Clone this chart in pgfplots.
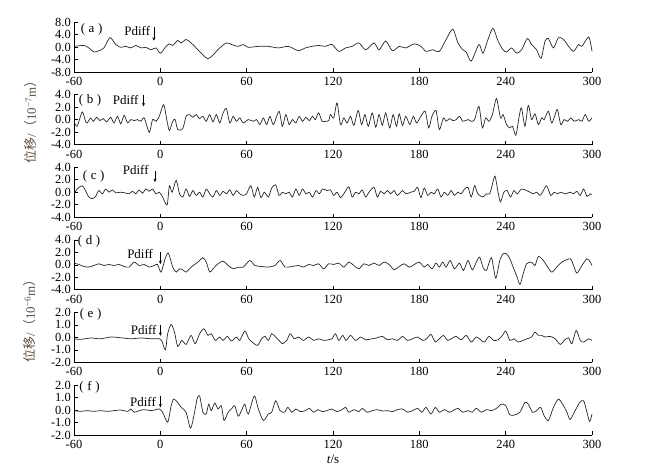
\documentclass[border=0pt]{standalone}
\usepackage{pgfplots}
\pgfplotsset{compat=1.18}
\usepackage{pgfplotstable}
\usetikzlibrary{arrows.meta}
\usepackage{fontspec}
\setmainfont{Liberation Serif}
\newfontfamily\cjk{Noto Sans CJK SC}
\definecolor{labc}{RGB}{95,80,65}

\pgfplotstableread{
t v
-60 0.2
-53.1 0.5
-49.7 -0.3
-46.2 -1.6
-42.7 -1.2
-39.2 -0.3
-35.0 3.0
-31.0 0.8
-27.5 -0.1
-24.0 0.2
-20.5 -0.3
-17.0 0.5
-13.5 -0.3
-10.0 -0.1
-6.5 -0.9
-3.0 -0.3
0 -2.0
4.0 0.2
6.3 1.0
8.6 0.5
12.1 2.1
14.5 1.3
17.9 2.4
21.4 1.3
24.9 -0.3
29.6 -2.5
33.1 -3.8
36.6 -2.5
41.3 -0.3
45.9 1.3
49.4 0.8
54.1 0.2
57.6 0.8
61.1 -0.1
68.1 0.2
75.1 0.2
82.1 -0.3
89.0 0.2
96.0 -1.2
100.7 -0.3
105.4 0.2
110.0 0.5
114.7 0.2
119.3 0.8
124.0 -1.4
128.7 -0.3
133.3 0.2
138.0 1.3
142.7 -0.9
148.5 1.3
152.0 -0.9
156.6 1.9
161.3 -1.2
166.0 0.2
170.6 -0.3
176.5 1.0
181.1 0.2
184.6 -1.4
189.3 -0.9
193.9 -1.4
198.6 2.4
203.3 5.7
206.8 1.3
210.3 -0.9
212.6 -1.6
216.1 -4.5
221.4 0.8
224.2 -2.0
227.7 2.4
231.2 6.0
234.7 1.9
238.2 -0.9
240.6 -1.6
244.1 -0.3
247.6 -2.0
251.1 -0.9
255.0 2.7
258.0 0.8
261.5 -0.9
264.6 -3.6
267.4 1.9
269.7 2.7
273.2 -0.3
276.7 3.0
280.2 2.4
283.7 0.2
287.2 -1.4
290.7 0.8
293.0 0.2
297.7 3.2
300 -1.4
}\dataA

\pgfplotstableread{
t v
-60 -0.27
-57.8 -1.07
-54.3 1.23
-52.0 -0.27
-50.8 -0.53
-48.5 0.27
-46.6 -0.27
-44.3 0.37
-42.0 -0.16
-39.6 0.16
-37.3 -0.37
-34.5 0.37
-32.2 -0.53
-29.8 0.53
-27.5 -0.69
-25.2 0.69
-22.8 -0.53
-20.5 0
-18.2 -0.16
-15.9 0
-13.5 -0.27
-11.2 0.27
-7.7 -2.03
-5.4 0
-3.0 -0.27
-0.7 0.53
2.3 2.4
4.7 -0.27
6.3 -1.76
8.6 -0.27
10.3 0
12.1 -1.6
15.6 -1.44
17.9 0.53
20.3 0.8
22.6 0.37
24.9 0.8
27.3 0.16
29.6 0.53
31.9 -0.27
34.3 0.8
36.6 -0.37
38.9 0.8
41.3 -0.53
43.6 1.07
45.9 1.76
48.3 -0.53
50.6 0.53
52.9 -0.27
55.2 0.27
57.6 -0.53
61.1 0
64.6 -0.27
66.9 0
69.2 -0.8
71.6 0.27
73.9 -0.8
76.2 0.53
78.6 -0.8
82.5 1.33
84.8 -1.07
87.2 0.8
89.5 -0.8
91.8 0
94.2 -0.53
96.5 0.53
98.8 -0.27
101.2 0.37
103.5 -0.16
105.8 0.53
107.7 0
110.0 1.07
112.4 -0.27
114.7 -0.27
117.0 -0.16
118.2 0.8
120.5 0.27
122.8 2.67
125.2 -0.8
127.5 0.27
129.8 -0.53
132.2 0.53
134.5 -0.91
137.5 1.44
139.9 -0.8
142.2 0.8
144.5 -1.07
147.3 1.07
149.7 -1.23
152.0 0.8
154.3 -0.91
156.6 1.07
159.4 -1.33
161.8 0.8
164.1 -1.07
166.0 0.91
168.3 -0.91
170.6 0.53
173.4 -0.8
175.8 0.53
178.1 -0.53
181.1 0.53
184.1 1.33
186.5 -1.33
188.8 0.53
191.6 1.44
193.9 -1.6
196.7 0.27
198.6 -0.27
200.9 0.16
203.3 -0.16
205.6 0
207.9 0.53
210.3 -0.27
213.8 0
216.1 -0.27
218.4 0
221.4 2.13
223.8 -1.33
226.1 0.27
228.4 -0.27
230.8 0.8
233.6 3.36
236.4 0.27
238.2 0.8
240.6 -0.8
242.9 -1.33
244.8 -1.07
247.1 -2.5
249.4 0.53
251.0 1.87
253.4 -1.07
255.7 2.29
258.0 0
260.4 0.91
262.7 -0.8
265.0 0.27
266.7 0
269.7 1.33
272.0 -0.53
274.4 0.8
276.0 1.6
278.3 -0.8
280.6 0
283.0 -0.27
285.3 0.27
287.6 -0.27
290.7 0
293.0 -0.27
295.3 0.8
297.7 -0.27
300 0.27
}\dataB

\pgfplotstableread{
t v
-60 -0.26
-57.8 0.51
-54.3 1.03
-52.0 0.26
-49.7 -0.77
-47.3 -1.03
-45.0 -0.67
-42.7 0.26
-40.3 -0.26
-38.0 0.51
-35.7 0
-33.3 0.36
-31.0 -0.1
-27.5 0
-24.0 -0.15
-21.7 -0.26
-19.3 0.15
-17.0 -0.26
-14.7 0.36
-12.4 -0.15
-10.0 0.51
-7.7 0.15
-5.4 0.51
-3.0 -0.26
-0.7 0
1.6 -0.77
4.7 -2.05
6.3 1.03
8.2 0
11.0 1.9
13.3 -0.26
15.6 -0.77
17.9 0.51
20.3 -0.67
22.6 0.26
24.9 -0.51
27.3 0
29.6 -0.77
31.9 0.51
34.3 -0.26
36.6 -0.77
38.9 0.26
41.3 -0.51
43.6 0.15
45.9 -0.26
48.3 0.36
50.6 -0.51
52.9 0.26
55.2 -0.26
57.6 -0.51
59.9 -0.26
62.9 1.03
65.3 -0.77
67.6 0.77
69.9 -0.87
72.3 0
75.1 -0.77
77.4 0.67
80.2 1.18
82.5 -0.51
84.8 0
87.2 -0.26
89.5 0
91.8 -0.77
94.2 0.51
96.5 -0.51
98.8 0.51
101.2 -0.26
103.5 0
105.8 -0.77
108.2 0.26
110.5 -0.26
112.8 0.51
115.9 0.26
118.2 0.36
120.5 -0.51
122.8 0
125.2 -0.87
127.5 -0.26
131.0 0.87
133.3 -0.77
135.7 0
138.0 -0.26
140.3 0.36
142.7 -0.77
145.0 0
148.5 0.77
150.8 -0.77
153.1 0.15
155.5 -0.26
157.8 0.26
160.1 -0.26
162.5 0.26
164.8 -0.51
168.3 0.26
170.6 -0.26
174.1 0
176.5 0.15
178.8 0.77
181.1 -0.87
183.4 0.67
185.8 -0.51
188.1 0
190.4 -0.26
192.8 0.51
195.1 -0.77
197.4 0
199.8 -0.51
202.1 0.26
204.4 -0.51
206.8 0
209.1 -0.26
211.4 0.51
213.8 0.77
216.1 -0.77
218.4 1.03
220.7 -0.26
224.2 -0.77
226.6 -0.26
228.9 -0.26
230.8 1.28
232.6 2.57
234.7 0
236.4 -1.54
238.7 0
241.0 0.26
243.4 -0.77
245.7 0.26
248.0 -0.26
251.0 0.51
254.5 0.26
256.9 0
259.2 -0.26
261.5 0
263.9 -0.51
266.2 0.26
268.5 1.03
271.3 -0.51
273.7 0
276.0 -0.26
278.3 0
281.4 -0.26
284.8 0
287.2 -0.26
289.5 0.15
291.8 -0.51
294.2 0.51
296.5 -0.67
298.8 -0.26
300 -0.36
}\dataC

\pgfplotstableread{
t v
-60 0.27
-56.6 0.05
-53.1 -0.27
-49.7 -0.37
-46.2 -0.11
-42.7 0.16
-39.2 -0.11
-35.7 0.05
-32.2 -0.11
-28.7 0.05
-25.2 -0.27
-21.7 -0.37
-18.2 0.43
-14.7 -0.11
-11.2 0.05
-7.7 -0.37
-4.2 -0.11
-1.9 0.05
0.5 -1.17
3.3 0.96
5.6 1.87
8.6 -0.37
11.0 -1.17
13.3 -0.64
15.6 -0.8
17.9 -1.17
21.4 -0.37
26.1 0.43
29.6 1.12
31.9 0.43
34.3 -1.17
36.6 -0.64
40.1 0.16
43.6 0.59
47.1 -0.11
50.6 -0.64
54.1 -0.37
57.6 -0.37
62.2 0.69
65.7 -0.11
70.4 -0.27
75.1 -0.37
79.7 -0.11
83.2 0.69
86.7 -0.37
91.4 -0.27
96.0 -0.11
99.5 -0.37
103.0 0.05
106.5 -0.11
110.0 0.16
113.5 -0.64
117.0 0.16
120.5 0.05
124.0 0.27
127.5 -0.37
131.0 0.43
134.5 -0.11
138.0 -0.64
141.5 0.16
145.0 -0.11
148.5 0.27
152.0 -0.11
155.5 0.43
159.0 0.05
162.5 -0.8
166.0 -0.27
169.5 0.16
173.0 -0.37
176.5 0.05
180.0 0.43
183.4 -0.37
185.8 0.05
188.8 -0.64
191.6 0.27
193.9 -0.37
196.3 0.43
198.6 -0.37
201.4 0.69
204.4 -0.64
207.9 0.27
210.7 -0.91
213.8 0.69
216.8 -0.8
219.6 0.43
221.9 1.23
224.2 -0.37
226.6 -0.91
230.1 1.12
233.1 -2.13
235.9 0.69
238.2 1.76
240.6 1.76
242.9 0.96
245.2 -0.37
247.6 -1.71
249.9 -3.14
252.2 -1.44
254.5 0.16
258.0 0.43
260.4 -0.11
262.7 1.33
266.2 0.69
268.5 -0.11
272.0 -1.17
275.5 -0.37
279.0 0.43
284.8 0.96
287.2 -0.11
289.5 -1.33
293.0 -0.11
296.5 0.96
298.8 0.43
300 -0.11
}\dataD

\pgfplotstableread{
t v
-60 -0.11
-55.5 -0.16
-48.5 -0.05
-41.5 -0.11
-34.5 0.03
-27.5 -0.03
-20.5 -0.11
-13.5 -0.05
-6.5 -0.11
-0.7 -0.11
0.9 -0.24
3.5 -0.99
5.1 0.29
7.5 1.04
9.8 0.43
12.1 -0.72
14.9 -0.24
17.9 -0.56
21.4 0.16
24.2 -0.51
27.3 0.29
30.3 0.69
33.1 0.16
35.4 0.29
38.2 -0.24
41.3 0.03
43.6 -0.24
46.6 0.08
49.4 -0.29
52.9 0.03
55.2 -0.24
58.7 0.51
61.5 -0.11
64.6 -0.45
67.6 -0.64
70.4 -0.11
72.7 0.08
75.1 -0.24
77.4 0.29
80.2 0.03
82.5 -0.24
84.8 -0.51
87.9 -0.24
90.2 0.29
93.2 -0.11
96.0 0.03
99.5 -0.24
103.0 0.03
106.5 -0.24
110.0 -0.11
113.5 -0.24
117.0 -0.19
119.3 -0.11
121.7 0.29
124.0 -0.24
126.8 0.16
129.1 -0.24
132.2 0.16
135.7 -0.24
139.2 0.03
142.7 -0.19
147.3 -0.11
150.8 -0.03
154.3 0.08
157.8 -0.19
161.3 -0.11
164.8 -0.24
168.3 0.08
171.8 -0.24
175.3 -0.11
178.8 0.03
182.3 -0.24
185.1 -0.11
188.1 0.24
191.1 -0.37
193.9 -0.11
196.7 0.16
199.8 -0.24
203.3 -0.03
205.6 0.08
209.1 -0.19
212.6 0.16
216.1 -0.37
219.6 0.03
223.1 -0.24
225.4 -0.37
228.4 0.08
231.7 -0.24
234.7 -0.19
237.8 0.16
240.1 0.51
242.9 -0.24
245.7 -0.11
248.7 -0.37
252.2 -0.24
255.0 -0.11
258.0 0.03
260.4 0.43
262.7 0.16
265.0 0.16
267.4 0.03
270.9 0.08
274.4 -0.11
277.9 -0.56
280.6 -0.24
283.7 -0.03
286.0 -0.51
289.0 0.56
291.8 -0.24
294.2 -0.37
297.7 -0.11
300 -0.24
}\dataE

\pgfplotstableread{
t v
-60 -0.05
-55.5 -0.11
-50.8 -0.05
-46.2 -0.11
-41.5 -0.05
-36.8 -0.11
-32.2 -0.05
-27.5 0
-22.8 -0.11
-20.5 0.08
-18.2 -0.18
-14.7 -0.05
-11.2 0.03
-6.5 -0.05
-3.0 0.03
-0.7 0.08
1.6 -0.18
5.1 -0.97
7.5 0.34
9.3 0.87
12.1 0.6
14.5 0.21
17.9 -0.18
21.0 -1.45
23.8 -0.18
25.6 0.92
27.3 1.13
29.6 -0.18
31.9 -0.32
33.6 0.47
35.4 -0.05
37.8 0.55
40.1 0.08
42.4 0.34
44.3 -0.84
47.1 -0.18
49.4 0.08
51.7 0.34
54.1 -0.5
56.4 -0.05
58.7 0.47
61.1 -0.32
65.3 1.13
68.1 0.08
71.6 -0.84
75.1 -0.32
77.4 -0.18
80.2 0.74
83.2 -0.05
86.2 -0.18
88.6 0.21
91.4 -0.18
94.2 0.08
97.2 -0.13
100.7 -0.05
103.5 0.13
106.5 -0.18
109.6 0.03
112.4 -0.13
115.9 -0.05
119.3 0.08
122.8 -0.13
126.3 0.03
128.7 0.21
131.0 -0.18
134.5 0.03
138.0 -0.13
140.3 0.13
143.8 -0.18
147.3 -0.05
150.8 0.03
154.3 -0.08
157.8 -0.05
161.3 -0.13
164.8 0.03
168.3 0.08
171.8 -0.18
175.3 -0.05
178.8 0.13
181.8 -0.18
184.6 0.21
188.1 -0.32
191.1 0.21
193.9 -0.18
197.4 0.03
200.9 -0.18
203.3 -0.05
206.8 0.13
210.3 -0.18
213.8 -0.05
216.8 -0.18
219.6 0.13
223.1 -0.18
226.6 0.03
230.1 -0.05
233.6 0.13
237.1 0.47
240.1 0.34
242.9 -0.39
246.4 -0.39
249.9 -0.18
253.4 0.6
255.7 0.47
258.7 -0.18
261.5 -0.05
264.3 0.21
266.7 -0.45
269.7 -0.84
273.2 0.21
276.7 0.87
280.2 0.34
282.6 -0.18
284.8 -0.76
288.3 -0.05
291.4 0.6
294.2 0.74
296.5 -0.18
298.4 -0.92
300 -0.32
}\dataF

\pgfplotsset{
  panel/.style={
    scale only axis, width=518bp, height=50bp,
    xmin=-60, xmax=300,
    axis x line=bottom, axis y line=left,
    axis line style={-, line width=0.6pt},
    every tick/.style={black, line width=0.6pt},
    tick align=inside, major tick length=3.5bp,
    xtick={-60,0,60,120,180,240,300},
    /pgf/number format/assume math mode=true,
    yticklabel style={/pgf/number format/fixed, /pgf/number format/fixed zerofill, /pgf/number format/precision=1},
    tick label style={font=\fontsize{12.5}{13}\selectfont},
    xticklabel style={inner sep=1bp, yshift=-4bp},
    yticklabel style={inner sep=1bp, xshift=-2bp},
    clip=false,
  },
  wave/.style={black!85, line width=0.7pt, smooth, tension=0.45, no markers},
}

\begin{document}
\fontsize{13}{15}\selectfont
\begin{tikzpicture}
\useasboundingbox (0,0) rectangle (651bp,474bp);

% (a)
\begin{axis}[panel, at={(74bp,402bp)}, anchor=south west,
  ymin=-8, ymax=8, ytick={-8,-4,0,4,8}]
\addplot[wave] table[x=t,y=v] {\dataA};
\node at (rel axis cs:0.034,0.86) {(\;a\;)};
\node[anchor=east, inner sep=0pt] at (axis cs:-7,5.2) {Pdiff};
\draw[-{Stealth[length=3.5bp,width=3bp]}, line width=0.6pt] (axis cs:-4.5,6.4) -- (axis cs:-4.5,2.0);
\end{axis}

% (b)
\begin{axis}[panel, at={(74bp,329.4bp)}, anchor=south west,
  ymin=-4, ymax=4, ytick={-4,-2,0,2,4}]
\addplot[wave] table[x=t,y=v] {\dataB};
\node at (rel axis cs:0.031,0.88) {(\;b\;)};
\node[anchor=east, inner sep=0pt] at (axis cs:-15,3.2) {Pdiff};
\draw[-{Stealth[length=3.5bp,width=3bp]}, line width=0.6pt] (axis cs:-11.7,4.0) -- (axis cs:-11.7,2.1);
\end{axis}

% (c)
\begin{axis}[panel, at={(74bp,256.8bp)}, anchor=south west,
  ymin=-4, ymax=4, ytick={-4,-2,0,2,4}]
\addplot[wave] table[x=t,y=v] {\dataC};
\node at (rel axis cs:0.038,0.82) {(\;c\;)};
\node[anchor=east, inner sep=0pt] at (axis cs:-8,3.6) {Pdiff};
\draw[-{Stealth[length=3.5bp,width=3bp]}, line width=0.6pt] (axis cs:-3.7,3.4) -- (axis cs:-3.7,1.6);
\end{axis}

% (d)
\begin{axis}[panel, at={(74bp,184.2bp)}, anchor=south west,
  ymin=-4, ymax=4, ytick={-4,-2,0,2,4}]
\addplot[wave] table[x=t,y=v] {\dataD};
\node at (rel axis cs:0.029,0.96) {(\;d\;)};
\node[anchor=east, inner sep=0pt] at (axis cs:-5,1.8) {Pdiff};
\draw[-{Stealth[length=3.5bp,width=3bp]}, line width=0.6pt] (axis cs:0,2.0) -- (axis cs:0,0.1);
\end{axis}

% (e)
\begin{axis}[panel, at={(74bp,111.6bp)}, anchor=south west,
  ymin=-2, ymax=2, ytick={-2,-1,0,1,2}]
\addplot[wave] table[x=t,y=v] {\dataE};
\node at (rel axis cs:0.032,0.96) {(\;e\;)};
\node[anchor=east, inner sep=0pt] at (axis cs:-2.5,0.6) {Pdiff};
\draw[-{Stealth[length=3.5bp,width=3bp]}, line width=0.6pt] (axis cs:0,0.98) -- (axis cs:0,0.12);
\end{axis}

% (f)
\begin{axis}[panel, at={(74bp,39bp)}, anchor=south west,
  ymin=-2, ymax=2, ytick={-2,-1,0,1,2}]
\addplot[wave] table[x=t,y=v] {\dataF};
\node at (rel axis cs:0.03,0.96) {(\;f\;)};
\node[anchor=east, inner sep=0pt] at (axis cs:-3,0.66) {Pdiff};
\draw[-{Stealth[length=3.5bp,width=3bp]}, line width=0.6pt] (axis cs:0,1.1) -- (axis cs:0,0.2);
\end{axis}

% y labels and x label
\node[rotate=90, text=labc] at (31bp,355bp) {{\cjk 位移}/{\cjk （}10\textsuperscript{−7}m{\cjk ）}};
\node[rotate=90, text=labc] at (30bp,156bp) {{\cjk 位移}/{\cjk （}10\textsuperscript{−6}m{\cjk ）}};
\node at (333bp,15bp) {\textit{t}/s};
\end{tikzpicture}
\end{document}
